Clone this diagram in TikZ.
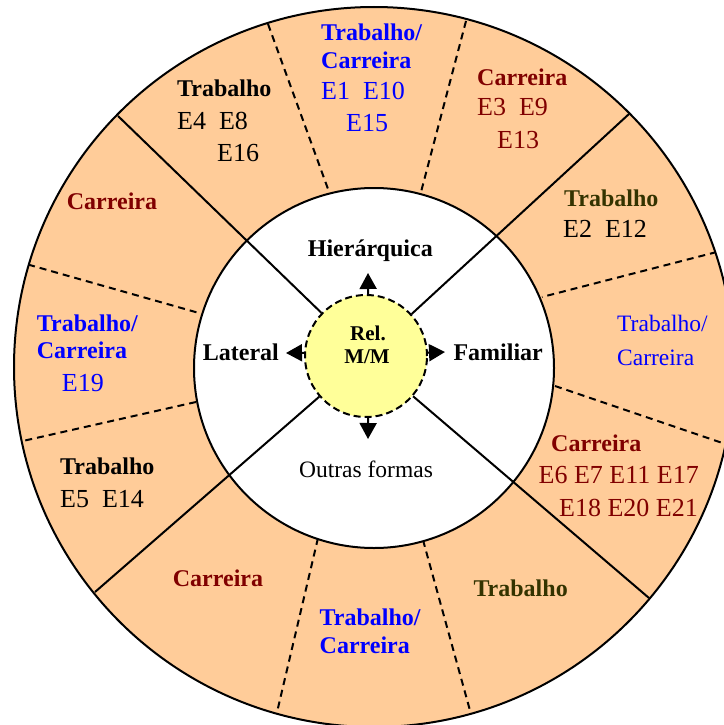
\documentclass[tikz,border=0pt]{standalone}
\usepackage{fontspec}
\setmainfont{Liberation Serif}
\usetikzlibrary{arrows.meta}

\definecolor{peach}{RGB}{255,204,153}
\definecolor{relyellow}{RGB}{255,255,153}
\definecolor{dred}{RGB}{128,0,0}
\definecolor{oliva}{RGB}{51,51,0}
\definecolor{pblue}{RGB}{0,0,255}

\tikzset{
  hd/.style={anchor=base west, inner sep=0pt, font=\fontsize{24}{28}\selectfont\bfseries},
  el/.style={anchor=base west, inner sep=0pt, font=\fontsize{26}{30}\selectfont},
  rm/.style={anchor=base west, inner sep=0pt, font=\fontsize{23.5}{28}\selectfont},
  mid/.style={anchor=base, inner sep=0pt, font=\fontsize{23.5}{28}\selectfont},
  ring/.style={line width=2pt},
  sep/.style={line width=2pt, dash pattern=on 7pt off 5pt},
  tip/.style={line width=2pt, -{Triangle[length=16pt,width=17pt]}}
}

\begin{document}
\begin{tikzpicture}[x=1pt,y=-1pt]
  \useasboundingbox (0,0) rectangle (723,725);

  % outer ring
  \fill[peach] (374,367) circle (360pt);
  \begin{scope}
    \clip (374,367) circle (360pt);
    \draw[sep] (268,24) -- (328,189);
    \draw[sep] (466,21) -- (421,192);
    \draw[sep] (740,246) -- (542,297);
    \draw[sep] (555,386) -- (740,449);
    \draw[sep] (423,540) -- (474,725);
    \draw[sep] (318,538) -- (274,725);
    \draw[sep] (196,402) -- (5,445);
    \draw[sep] (5,258) -- (199,313);
  \end{scope}
  \fill[white] (374,368) circle (180pt);
  \draw[ring] (374,368) circle (180pt);
  \draw[ring] (374,367) circle (360pt);

  % centre
  \node[circle, minimum size=122pt, inner sep=0pt, fill=relyellow, draw,
        line width=2pt, dash pattern=on 7pt off 4pt] (rel) at (366,356) {};
  \coordinate (ul) at (118,116);
  \coordinate (ur) at (629,114);
  \coordinate (ll) at (95,592);
  \coordinate (lr) at (649,598);
  \draw[ring] (ul) -- (rel);
  \draw[ring] (ur) -- (rel);
  \draw[ring] (ll) -- (rel);
  \draw[ring] (lr) -- (rel);

  \coordinate (toup) at (368,273);
  \coordinate (tolt) at (286,353);
  \coordinate (tort) at (445,352);
  \coordinate (todn) at (368,439);
  \draw[tip] (rel.88) -- (toup);
  \draw[tip] (rel.177) -- (tolt);
  \draw[tip] (rel.3) -- (tort);
  \draw[tip] (rel.272) -- (todn);

  \node[mid, font=\fontsize{21}{24}\selectfont\bfseries] (relA) at (368,340) {Rel.};
  \node[mid, font=\fontsize{21}{24}\selectfont\bfseries] (relB) at (367,363.3) {M/M};

  % inner labels
  \node[mid, font=\fontsize{24}{28}\selectfont\bfseries] (hier) at (370.3,256) {Hierárquica};
  \node[hd] (lat) at (202.7,360) {Lateral};
  \node[hd] (fam) at (453.3,360) {Familiar};
  \node[mid] (outras) at (366,477.3) {Outras formas};

  % top
  \node[hd, pblue] (tmA) at (321,40.6) {Trabalho/};
  \node[hd, pblue] (tmB) at (321,68) {Carreira};
  \node[el, pblue] (tmC) at (321,99.3) {E1\ \ E10};
  \node[el, pblue] (tmD) at (346,131.6) {E15};

  \node[hd] (tlA) at (177,96.7) {Trabalho};
  \node[el] (tlB) at (177,129) {E4\ \ E8};
  \node[el] (tlC) at (217,161) {E16};

  \node[hd, dred] (trA) at (477,85) {Carreira};
  \node[el, dred] (trB) at (477,115) {E3\ \ E9};
  \node[el, dred] (trC) at (497,148.3) {E13};

  % right
  \node[hd, oliva] (ruA) at (564,206) {Trabalho};
  \node[el] (ruB) at (563,237.3) {E2\ \ E12};

  \node[rm, pblue] (rmA) at (617,331.7) {Trabalho/};
  \node[rm, pblue] (rmB) at (617,365) {Carreira};

  \node[hd, dred] (rlA) at (551,451.7) {Carreira};
  \node[el, dred] (rlB) at (538.5,483.3) {E6 E7 E11 E17};
  \node[el, dred] (rlC) at (559,516.7) {E18 E20 E21};

  % bottom
  \node[hd, oliva] (brA) at (473.3,596) {Trabalho};
  \node[hd, pblue] (bmA) at (319.5,625.7) {Trabalho/};
  \node[hd, pblue] (bmB) at (319.5,653) {Carreira};
  \node[hd, dred] (blA) at (172.7,586.7) {Carreira};

  % left
  \node[hd] (llA) at (60,474.3) {Trabalho};
  \node[el] (llB) at (60,507.3) {E5\ \ E14};

  \node[hd, pblue] (lmA) at (36.7,331.7) {Trabalho/};
  \node[hd, pblue] (lmB) at (36.7,358) {Carreira};
  \node[el, pblue] (lmC) at (61.7,391.7) {E19};

  \node[hd, dred] (luA) at (66.7,209.3) {Carreira};
\end{tikzpicture}
\end{document}
